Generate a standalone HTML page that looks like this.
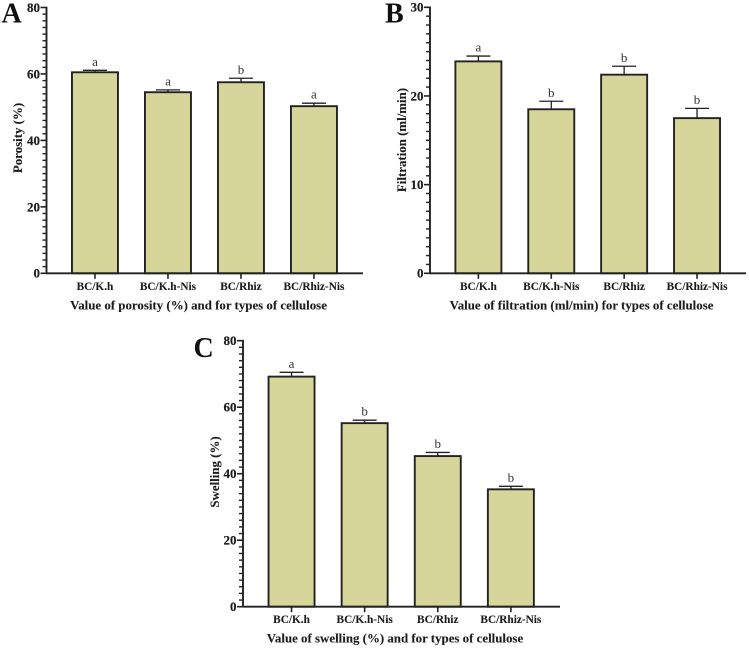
<!DOCTYPE html>
<html>
<head>
<meta charset="utf-8">
<title>Porosity, filtration and swelling of cellulose types</title>
<style>
html,body{margin:0;padding:0;background:#fff;}
svg{display:block;filter:blur(0.3px);}
text{font-family:"Liberation Serif",serif;fill:#1c1c1c;}
.tick{font-weight:bold;font-size:13px;stroke:#1c1c1c;stroke-width:0.2px;}
.cat{font-weight:bold;font-size:11.3px;stroke:#1c1c1c;stroke-width:0.1px;}
.title{font-weight:bold;font-size:12.9px;stroke:#1c1c1c;stroke-width:0.1px;}
.panel{font-weight:bold;font-size:28px;fill:#111;}
.sig{font-size:13px;fill:#333;}
</style>
</head>
<body>
<svg id="figure" xmlns="http://www.w3.org/2000/svg" width="749" height="649" viewBox="0 0 749 649"></svg>
<script>
const categories = ["BC/K.h", "BC/K.h-Nis", "BC/Rhiz", "BC/Rhiz-Nis"];

const porosityValues = [60.5, 54.5, 57.5, 50.3];
const porosityErrors = [0.6, 0.7, 1.2, 0.9];
const porosityLetters = ["a", "a", "b", "a"];
const porosityTicks = [0, 20, 40, 60, 80];

const filtrationValues = [23.9, 18.5, 22.4, 17.5];
const filtrationErrors = [0.6, 0.9, 0.95, 1.1];
const filtrationLetters = ["a", "b", "b", "b"];
const filtrationTicks = [0, 10, 20, 30];

const swellingValues = [69.2, 55.2, 45.3, 35.3];
const swellingErrors = [1.3, 0.9, 1.1, 0.9];
const swellingLetters = ["a", "b", "b", "b"];
const swellingTicks = [0, 20, 40, 60, 80];

const svg = document.getElementById('figure');
const NS = 'http://www.w3.org/2000/svg';
const INK = '#222';

function make(tag, parent, attrs, txt) {
  const el = document.createElementNS(NS, tag);
  for (const k in attrs) el.setAttribute(k, attrs[k]);
  if (txt !== undefined) el.textContent = txt;
  parent.appendChild(el);
  return el;
}

function drawPanel(p) {
  const g = make('g', svg, {});
  
  

  const top = p.ticks[p.ticks.length - 1];
  const yScale = v => p.y0 - (v / top) * (p.y0 - p.yTop);
  const xScale = i => p.left + (i + 0.664) * p.width / 4.336;
  const barW = 46;
  const capW = 24;

  const panelLetter = make('text', g, {x: p.letterX, y: p.letterY, class: 'panel'}, p.letter);
  
  

  p.values.forEach((v, i) => {
    const cx = xScale(i);
    const capY = yScale(v + p.errors[i]);

    const err = make('line', g, {x1: cx, x2: cx, y1: yScale(v), y2: capY, stroke: INK, 'stroke-width': 1.3});
    
    

    const cap = make('line', g, {x1: cx - capW / 2, x2: cx + capW / 2, y1: capY, y2: capY, stroke: INK, 'stroke-width': 1.3});
    
    

    const bar = make('rect', g, {x: cx - barW / 2, y: yScale(v), width: barW, height: p.y0 - yScale(v), fill: '#d6d69a', stroke: INK, 'stroke-width': 1.9});
    
    

    const sig = make('text', g, {x: cx, y: capY - 4.5, 'text-anchor': 'middle', class: 'sig'}, p.letters[i]);
    
    

    const tick = make('line', g, {x1: cx, x2: cx, y1: p.y0, y2: p.y0 + 5.5, stroke: INK, 'stroke-width': 1.6});
    
    

    const cat = make('text', g, {x: cx, y: p.y0 + 16.5, 'text-anchor': 'middle', class: 'cat'}, categories[i]);
    
    
  });

  const yAxis = make('line', g, {x1: p.left, x2: p.left, y1: p.yTop - 0.8, y2: p.y0 + 0.8, stroke: INK, 'stroke-width': 1.9});
  
  

  const xAxis = make('line', g, {x1: p.left, x2: p.left + p.width, y1: p.y0, y2: p.y0, stroke: INK, 'stroke-width': 1.9});
  
  

  const step = p.ticks[1] - p.ticks[0];
  for (let t = 0; t < p.ticks.length; t++) {
    const major = p.ticks[t];
    const my = yScale(major);
    const mTick = make('line', g, {x1: p.left - 6, x2: p.left, y1: my, y2: my, stroke: INK, 'stroke-width': 1.6});
    
    

    const label = make('text', g, {x: p.left - 6.5, y: my + 4.4, 'text-anchor': 'end', class: 'tick'}, major);
    
    

    if (t < p.ticks.length - 1) {
      for (let m = 1; m < 10; m++) {
        const ny = yScale(major + step * m / 10);
        const minor = make('line', g, {x1: p.left - 4, x2: p.left, y1: ny, y2: ny, stroke: INK, 'stroke-width': 1.4});
        
        
      }
    }
  }

  const yTitle = make('text', g, {x: 0, y: 0, 'text-anchor': 'middle', class: 'title', transform: 'translate(' + p.yTitleX + ',' + p.yTitleY + ') rotate(-90)'}, p.yTitle);
  
  

  const xTitle = make('text', g, {x: p.xTitleX, y: p.y0 + 36, 'text-anchor': 'middle', class: 'title'}, p.xTitle);
  
  
}

drawPanel({
  key: 'porosity', letter: 'A', letterX: 1.5, letterY: 22.5,
  left: 46.5, width: 316.5, y0: 273.3, yTop: 7.5,
  values: porosityValues, errors: porosityErrors, letters: porosityLetters, ticks: porosityTicks,
  yTitle: 'Porosity (%)', yTitleX: 22, yTitleY: 138,
  xTitle: 'Value of porosity (%) and for types of cellulose', xTitleX: 198.5
});
drawPanel({
  key: 'filtration', letter: 'B', letterX: 385, letterY: 22.5,
  left: 430, width: 316, y0: 273.3, yTop: 7.3,
  values: filtrationValues, errors: filtrationErrors, letters: filtrationLetters, ticks: filtrationTicks,
  yTitle: 'Filtration (ml/min)', yTitleX: 406, yTitleY: 140,
  xTitle: 'Value of filtration (ml/min) for types of cellulose', xTitleX: 581.5
});
drawPanel({
  key: 'swelling', letter: 'C', letterX: 193.5, letterY: 357,
  left: 243, width: 317, y0: 606.7, yTop: 340.7,
  values: swellingValues, errors: swellingErrors, letters: swellingLetters, ticks: swellingTicks,
  yTitle: 'Swelling (%)', yTitleX: 219, yTitleY: 472,
  xTitle: 'Value of swelling (%) and for types of cellulose', xTitleX: 395
});
</script>
</body>
</html>
